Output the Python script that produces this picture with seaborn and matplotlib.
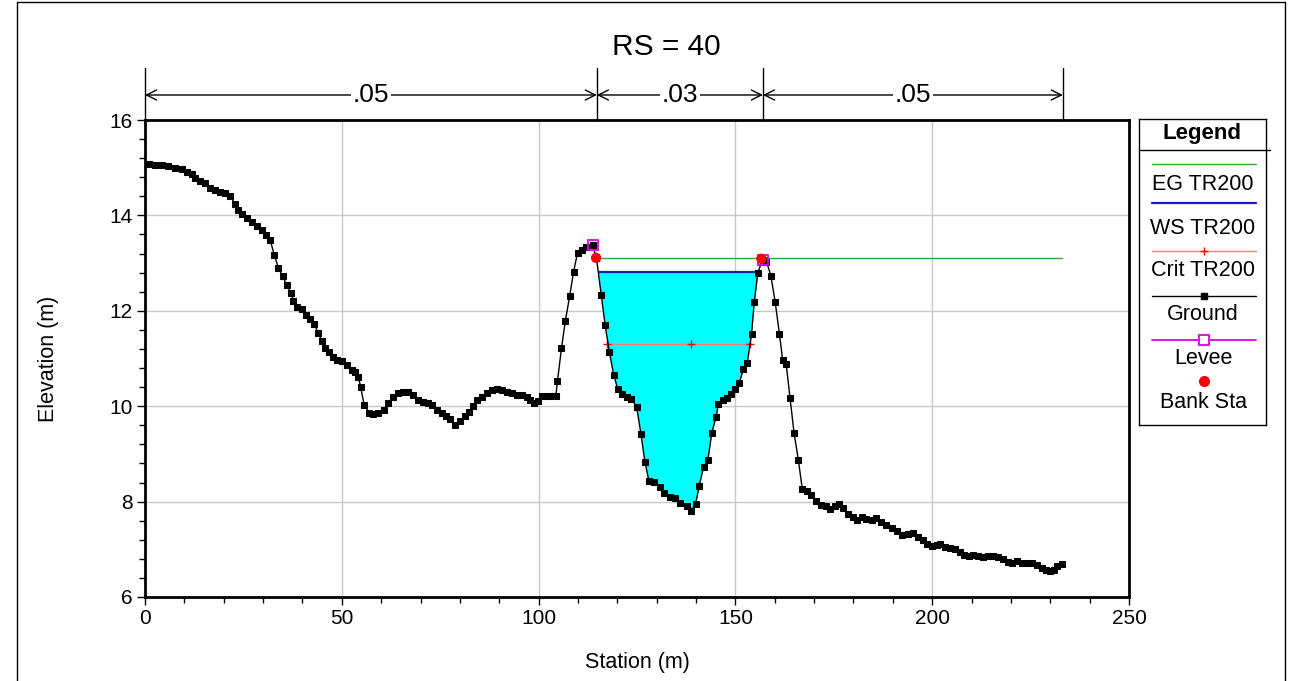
import numpy as np
import pandas as pd
import matplotlib
matplotlib.use("Agg")
import matplotlib.pyplot as plt
from matplotlib.ticker import MultipleLocator
from matplotlib.lines import Line2D
import seaborn as sns

# ---------------- data ----------------
station = [0.0, 0.9, 2.5, 4.2, 5.9, 7.6, 9.3, 10.6, 11.9, 12.7, 14.0, 15.2, 16.5, 17.8, 19.1, 20.3,
           21.6, 22.9, 23.7, 24.6, 25.8, 27.1, 28.4, 29.6, 30.7, 31.8, 32.9, 33.9, 35.0, 36.0, 37.1,
           37.7, 38.7, 39.8, 40.8, 41.9, 43.0, 44.0, 44.9, 45.7, 46.8, 47.8, 48.9, 50.0, 51.2, 52.5,
           53.4, 54.2, 54.8, 55.7, 57.0, 58.0, 59.3, 60.6, 61.8, 63.1, 64.4, 65.6, 66.9, 68.2, 69.4,
           70.7, 72.0, 72.8, 74.1, 75.4, 76.6, 77.5, 78.8, 80.0, 81.3, 82.4, 83.4, 84.3, 85.5, 86.8,
           88.1, 89.4, 90.6, 91.9, 93.2, 94.4, 95.7, 97.0, 97.8, 98.8, 99.8, 100.9, 102.0, 103.2,
           104.4, 104.8, 105.8, 106.8, 107.9, 108.9, 109.9, 110.9, 112.0, 113.7, 114.7, 115.9, 116.9,
           118.0, 119.1, 120.1, 121.1, 122.4, 123.6, 124.9, 126.0, 127.0, 128.0, 129.4, 130.8, 131.9,
           133.4, 134.7, 135.9, 137.6, 138.7, 139.9, 140.8, 141.9, 143.0, 144.0, 145.1, 145.7, 146.9,
           147.9, 149.0, 149.9, 151.0, 152.0, 153.0, 154.1, 154.8, 155.7, 156.9, 157.9, 159.0, 160.1,
           161.2, 162.0, 162.9, 163.9, 164.9, 166.0, 167.0, 168.1, 169.2, 170.5, 171.7, 173.0, 174.0,
           175.3, 176.2, 177.3, 178.5, 179.8, 181.0, 182.1, 183.3, 184.6, 185.7, 186.9, 188.3, 189.7,
           191.0, 192.3, 193.9, 195.2, 196.5, 197.6, 198.6, 199.9, 201.1, 202.0, 203.3, 204.5, 205.8,
           207.1, 208.1, 209.4, 210.4, 211.7, 213.0, 214.3, 215.5, 216.8, 218.1, 219.3, 220.4, 221.6,
           222.7, 224.0, 225.3, 226.5, 227.8, 228.9, 229.9, 230.9, 231.8, 232.9]
elevation = [15.08, 15.08, 15.05, 15.06, 15.03, 14.99, 14.97, 14.92, 14.87, 14.78, 14.73, 14.67, 14.57,
             14.53, 14.50, 14.48, 14.41, 14.24, 14.11, 14.03, 13.94, 13.87, 13.78, 13.69, 13.59, 13.48,
             13.16, 12.90, 12.72, 12.54, 12.37, 12.21, 12.09, 12.03, 11.91, 11.82, 11.72, 11.54, 11.37,
             11.23, 11.14, 11.04, 10.97, 10.95, 10.86, 10.76, 10.72, 10.62, 10.40, 10.02, 9.86, 9.84,
             9.86, 9.91, 10.06, 10.20, 10.27, 10.30, 10.30, 10.23, 10.14, 10.09, 10.07, 10.02, 9.92,
             9.85, 9.79, 9.74, 9.61, 9.70, 9.79, 9.88, 10.00, 10.13, 10.19, 10.27, 10.34, 10.37, 10.35,
             10.30, 10.27, 10.23, 10.23, 10.20, 10.14, 10.06, 10.11, 10.21, 10.22, 10.22, 10.22, 10.53,
             11.21, 11.79, 12.31, 12.82, 13.22, 13.27, 13.33, 13.37, 13.11, 12.34, 11.70, 11.13, 10.65,
             10.36, 10.25, 10.20, 10.15, 9.99, 9.42, 8.84, 8.44, 8.42, 8.31, 8.17, 8.10, 8.08, 7.98,
             7.91, 7.81, 7.95, 8.33, 8.72, 8.87, 9.44, 9.78, 10.05, 10.12, 10.17, 10.26, 10.37, 10.49,
             10.77, 10.90, 11.51, 12.19, 12.80, 13.07, 13.03, 12.74, 12.19, 11.51, 10.97, 10.88, 10.17,
             9.44, 8.87, 8.26, 8.23, 8.14, 8.02, 7.93, 7.91, 7.84, 7.91, 7.96, 7.87, 7.75, 7.68, 7.61,
             7.67, 7.63, 7.61, 7.65, 7.58, 7.51, 7.45, 7.38, 7.31, 7.32, 7.34, 7.26, 7.19, 7.12, 7.07,
             7.09, 7.12, 7.05, 7.02, 7.00, 6.95, 6.88, 6.86, 6.88, 6.85, 6.83, 6.86, 6.86, 6.83, 6.79,
             6.74, 6.71, 6.76, 6.72, 6.71, 6.71, 6.67, 6.60, 6.57, 6.55, 6.57, 6.64, 6.69]

ws_elev = 12.81
ws_stations = [115.4, 155.7]
eg_elev = 13.11
eg_stations = [115.0, 233.0]
crit_elev = 11.30
crit_stations = [117.4, 138.6, 153.7]
levee_sta = [113.7, 156.9]
levee_elev = [13.37, 13.07]
bank_sta = [114.6, 156.6]
bank_elev = [13.11, 13.09]
n_values = [".05", ".03", ".05"]
n_breaks = [0.0, 114.8, 157.0, 233.2]

legend_labels = ["EG TR200", "WS TR200", "Crit TR200", "Ground", "Levee", "Bank Sta"]

# ---------------- style ----------------
sns.set_theme(style="white")
plt.rcParams["font.family"] = ["Liberation Sans", "DejaVu Sans"]
plt.rcParams["text.color"] = "black"
plt.rcParams["axes.labelcolor"] = "black"
plt.rcParams["xtick.color"] = "black"
plt.rcParams["ytick.color"] = "black"

W, H = 1294, 681
fig = plt.figure(figsize=(W / 100, H / 100), dpi=100)
fig.patch.set_facecolor("white")

def fx(px):
    return px / W

def fy(py):
    return 1 - py / H

ax = fig.add_axes([fx(145), fy(597), fx(1129) - fx(145), fy(120) - fy(597)])
ax.set_facecolor("white")

ground = pd.DataFrame({"Station": station, "Elevation": elevation})

# water fill in main channel
xs = np.linspace(bank_sta[0], bank_sta[1], 1200)
gs = np.interp(xs, station, elevation)
ax.fill_between(xs, gs, ws_elev, where=gs < ws_elev, color="#00ffff", interpolate=True,
                linewidth=0, zorder=2)

# EG, WS, Crit
ax.plot(eg_stations, [eg_elev] * 2, color="#3aa03a", lw=1.0, zorder=3)
ax.plot(ws_stations, [ws_elev] * 2, color="#1a1ad0", lw=1.6, zorder=3)
ax.plot(crit_stations, [crit_elev] * 3, color="#f08080", lw=1.0, marker="+",
        markersize=6, markeredgecolor="red", markeredgewidth=1.0, zorder=3)

# ground
sns.lineplot(data=ground, x="Station", y="Elevation", sort=False, estimator=None,
             color="black", lw=1.0, marker="s", markersize=4.8, markeredgecolor="black",
             ax=ax, zorder=4)

# levee and bank stations
ax.plot(levee_sta, levee_elev, linestyle="none", marker="s", markersize=7,
        markerfacecolor="none", markeredgecolor="#e000e0", markeredgewidth=1.3, zorder=5)
sns.scatterplot(x=bank_sta, y=bank_elev, color="red", s=55, edgecolor="none", ax=ax, zorder=6)

ax.set_xlim(0, 250)
ax.set_ylim(6, 16)
ax.xaxis.set_major_locator(MultipleLocator(50))
ax.xaxis.set_minor_locator(MultipleLocator(10))
ax.yaxis.set_major_locator(MultipleLocator(2))
ax.yaxis.set_minor_locator(MultipleLocator(0.4))
ax.grid(True, which="major", color="#c8c8c8", lw=1.0, zorder=0)
ax.set_axisbelow(True)
for s in ax.spines.values():
    s.set_color("black")
    s.set_linewidth(2.0)
ax.tick_params(which="major", direction="out", length=6, width=1, colors="black",
               labelsize=15, pad=3, bottom=True, left=True)
ax.tick_params(which="minor", direction="out", length=4, width=1, colors="black",
               bottom=True, left=True)
ax.set_xlabel("Station (m)", fontsize=15.5, labelpad=17)
ax.set_ylabel("Elevation (m)", fontsize=15.5, labelpad=36)

# Manning's n annotations
y_arrow = 16.0 + 25 / 47.7
y_top = 16.0 + 52 / 47.7
for xb in n_breaks:
    ax.plot([xb, xb], [16.0, y_top], color="black", lw=1.0, clip_on=False, zorder=7)
for i, lab in enumerate(n_values):
    x0, x1 = n_breaks[i], n_breaks[i + 1]
    ax.annotate("", xy=(x1, y_arrow), xytext=(x0, y_arrow),
                arrowprops=dict(arrowstyle="<->,head_length=0.6,head_width=0.3",
                                color="black", lw=1.0, shrinkA=0, shrinkB=0),
                annotation_clip=False, zorder=7)
    ax.text((x0 + x1) / 2, y_arrow, lab, ha="center", va="center", fontsize=19,
            bbox=dict(facecolor="white", edgecolor="none", pad=1.5), clip_on=False, zorder=8)

fig.text(fx(666), fy(47), "RS = 40", ha="center", va="center", fontsize=21.5)

# legend panel
lax = fig.add_axes([fx(1139), fy(425), fx(1266) - fx(1139), fy(119) - fy(425)])
lax.set_xlim(1139, 1266)
lax.set_ylim(425, 119)
lax.set_xticks([])
lax.set_yticks([])
for s in lax.spines.values():
    s.set_color("black")
    s.set_linewidth(1.0)
lax.set_facecolor("white")
lax.text(1202, 134, "Legend", ha="center", va="center", fontsize=16, fontweight="bold")
lax.plot([1139, 1270], [150, 150], color="black", lw=1.0, clip_on=False)
xl = [1152, 1256]
xm = 1204
lax.plot(xl, [164, 164], color="#3aa03a", lw=1.0)
lax.plot(xl, [203, 203], color="#1a1ad0", lw=1.6)
lax.plot(xl, [251, 251], color="#f08080", lw=1.0)
lax.plot([xm], [251], marker="+", color="red", markersize=6)
lax.plot(xl, [296, 296], color="black", lw=1.0)
lax.plot([xm], [296], marker="s", color="black", markersize=5)
lax.plot(xl, [340, 340], color="#e000e0", lw=1.3)
lax.plot([xm], [340], marker="s", markerfacecolor="white", markeredgecolor="#e000e0",
         markersize=7, markeredgewidth=1.3)
lax.plot([xm], [381], marker="o", color="red", markersize=7)
label_y = [185, 228, 271, 315, 358, 403]
for lab, ly in zip(legend_labels, label_y):
    lax.text(1203, ly, lab, ha="center", va="center", fontsize=15.5)

# outer frame
fig.add_artist(Line2D([fx(17), fx(17)], [0, fy(2)], color="black", lw=1.0))
fig.add_artist(Line2D([fx(17), fx(1285)], [fy(2), fy(2)], color="black", lw=1.0))
fig.add_artist(Line2D([fx(1285), fx(1285)], [0, fy(2)], color="black", lw=1.0))

fig.savefig("out.png", dpi=100, facecolor="white")
